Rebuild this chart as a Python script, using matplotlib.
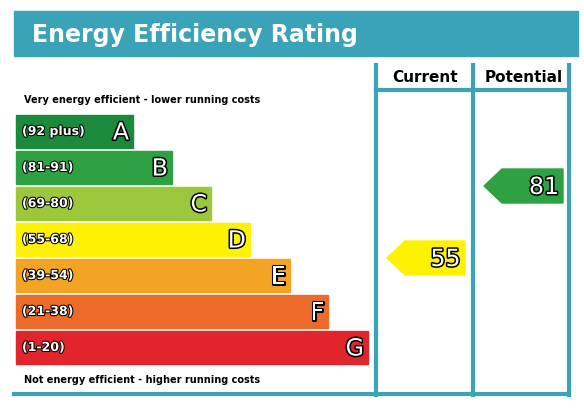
import matplotlib
matplotlib.use("Agg")
import matplotlib.pyplot as plt
from matplotlib.patches import Rectangle, Polygon
import matplotlib.patheffects as pe

bands = ["A", "B", "C", "D", "E", "F", "G"]
ranges = ["(92 plus)", "(81-91)", "(69-80)", "(55-68)", "(39-54)", "(21-38)", "(1-20)"]
colors = ["#1b8a3c", "#2ea243", "#9bc83b", "#fff200", "#f4a425", "#ec6b2a", "#e2252c"]
bar_ends = [133, 172, 211, 250, 290, 328, 368]
current = 55
potential = 81

teal = "#3aa3b8"

def band_of(v):
    lows = [92, 81, 69, 55, 39, 21, 1]
    for i, lo in enumerate(lows):
        if v >= lo:
            return i
    return 6

fig = plt.figure(figsize=(5.84, 4.10), dpi=100)
ax = fig.add_axes([0, 0, 1, 1])
ax.set_xlim(0, 584)
ax.set_ylim(410, 0)
ax.axis("off")

# title banner
ax.add_patch(Rectangle((14, 12), 564, 45, color=teal))
ax.text(32, 35, "Energy Efficiency Rating", color="white", fontsize=17,
        fontweight="bold", va="center", ha="left")

# column lines
for x in [376, 473, 569]:
    ax.plot([x, x], [66, 396], color=teal, lw=3)
ax.plot([376, 569], [91, 91], color=teal, lw=3)
ax.plot([14, 569], [395, 395], color=teal, lw=3)
ax.text(425, 77, "Current", fontsize=11, fontweight="bold", ha="center", va="center")
ax.text(524, 77, "Potential", fontsize=11, fontweight="bold", ha="center", va="center")

ax.text(24, 100, "Very energy efficient - lower running costs", fontsize=7,
        fontweight="bold", va="center")
ax.text(24, 380, "Not energy efficient - higher running costs", fontsize=7,
        fontweight="bold", va="center")

outline = [pe.withStroke(linewidth=2.2, foreground="black")]
top0, step, h = 116, 36, 33
for i, (b, r, c, xe) in enumerate(zip(bands, ranges, colors, bar_ends)):
    y = top0 + i * step
    ax.add_patch(Rectangle((16, y), xe - 16, h, color=c))
    ax.text(22, y + h / 2, r, fontsize=9, fontweight="bold", color="white",
            va="center", path_effects=[pe.withStroke(linewidth=1.5, foreground="black")])
    ax.text(xe - 4, y + h / 2 + 1, b, fontsize=17, color="white", ha="right",
            va="center", path_effects=outline)

def arrow(x0, x1, v, yc):
    c = colors[band_of(v)]
    hh = 17
    ax.add_patch(Polygon([(x0, yc), (x0 + 18, yc - hh), (x1, yc - hh), (x1, yc + hh),
                          (x0 + 18, yc + hh)], closed=True, color=c))
    ax.text(x1 - 4, yc + 1, str(v), fontsize=17, color="white", ha="right",
            va="center", path_effects=outline)

arrow(387, 465, current, 259)
arrow(484, 563, potential, 187)

fig.savefig("out.png", dpi=100)
